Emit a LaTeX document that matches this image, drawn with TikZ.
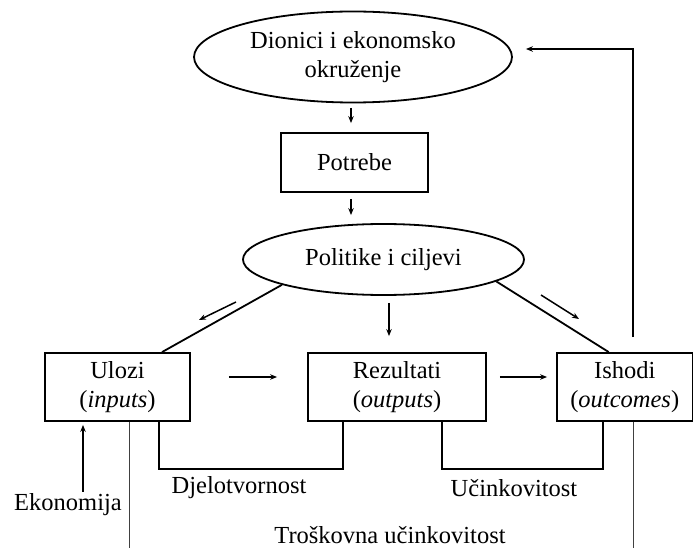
\documentclass[tikz,border=0pt]{standalone}
\usepackage{fontspec}
\setmainfont{Liberation Serif}
\usetikzlibrary{shapes.geometric,arrows.meta}
\begin{document}
\begin{tikzpicture}[x=1pt,y=-1pt,
  every node/.style={font=\fontsize{24.5}{29.5}\selectfont, inner sep=0pt, align=center},
  ell/.style={draw, ellipse, line width=1.8pt},
  box/.style={draw, rectangle, line width=1.8pt},
  ln/.style={line width=1.8pt},
  thin/.style={line width=1pt, draw=black!75},
  arr/.style={line width=1.5pt, -{Stealth[length=7pt,width=5.5pt]}}]
\useasboundingbox (0,0) rectangle (693,548);
\node[ell, minimum width=318pt, minimum height=91pt] (dion) at (353,57) {Dionici i ekonomsko\\okruženje};
\node[box, minimum width=147pt, minimum height=59pt] (potr) at (354.5,162.5) {Potrebe};
\node[ell, minimum width=281pt, minimum height=71pt] (pol) at (383.5,259.5) {Politike i ciljevi};
\node[box, minimum width=145pt, minimum height=68pt] (ul) at (117.5,387) {Ulozi\\(\textit{inputs})};
\node[box, minimum width=178pt, minimum height=68pt] (rez) at (397,387) {Rezultati\\(\textit{outputs})};
\node[box, minimum width=135.5pt, minimum height=68pt] (ish) at (624.75,387) {Ishodi\\(\textit{outcomes})};
\node (ekon) at (68,505) {Ekonomija};
\node (djel) at (239,488) {Djelotvornost};
\node (ucin) at (514,488) {Učinkovitost};
\node (tros) at (390,535) {Troškovna učinkovitost};
\coordinate (la1) at (236,302);
\coordinate (la2) at (199,320);
\coordinate (ra1) at (541,295);
\coordinate (ra2) at (579,319);
\coordinate (bl) at (129,548);
\coordinate (br) at (633,548);
% vertical flow
\draw[arr, shorten <=4.5pt, shorten >=9pt] ([xshift=-2pt]dion.south) -- ([xshift=-3.5pt]potr.north);
\draw[arr, shorten <=6pt, shorten >=8pt] ([xshift=-3.5pt]potr.south) -- ([xshift=-32.5pt]pol.north);
% policy lines
\draw[ln] (pol.194) -- ([xshift=44.5pt]ul.north);
\draw[ln] (pol.-11.3) -- ([xshift=-16pt]ish.north);
\draw[arr] (la1) -- (la2);
\draw[arr] (ra1) -- (ra2);
\draw[arr, shorten <=7pt, shorten >=16pt] ([xshift=5.5pt]pol.south) -- ([xshift=-8pt]rez.north);
% horizontal flow
\draw[arr, shorten <=38pt, shorten >=30pt] ([yshift=10pt]ul.east) -- ([yshift=10pt]rez.west);
\draw[arr, shorten <=13pt, shorten >=9pt] ([yshift=10pt]rez.east) -- ([yshift=10pt]ish.west);
% feedback
\draw[arr] ([xshift=8.25pt,yshift=15pt]ish.north) |- ([xshift=13pt,yshift=8pt]dion.east);
% brackets
\draw[ln] ([xshift=41.5pt]ul.south) -- ++(0,47) -| ([xshift=-54pt]rez.south);
\draw[ln] ([xshift=45pt]rez.south) -- ++(0,47) -| ([xshift=-21.75pt]ish.south);
% thin lines
\draw[thin] ([xshift=11.5pt]ul.south) -- (bl);
\draw[thin] ([xshift=8.25pt]ish.south) -- (br);
% ekonomija
\draw[arr] ([xshift=15pt,yshift=2pt]ekon.north) -- ([xshift=-34.5pt,yshift=-3pt]ul.south);
\end{tikzpicture}
\end{document}
